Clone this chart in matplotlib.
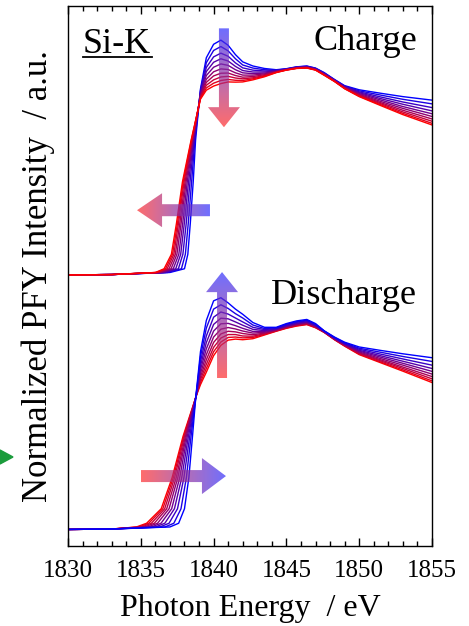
import numpy as np
import matplotlib
matplotlib.use("Agg")
import matplotlib.pyplot as plt
from matplotlib.colors import LinearSegmentedColormap
from matplotlib.patches import Polygon
from matplotlib.ticker import MultipleLocator

plt.rcParams['font.family'] = ['Liberation Serif', 'DejaVu Serif']

# each spectrum = pre-edge points + energies where the edge crosses fixed levels
# + intensities at fixed post-edge energies
pre_E = [1830, 1833]
pre_I = [0.0, 0.002]
edge_levels = [0.012, 0.03, 0.1, 0.25, 0.45, 0.65]
post_E = [1839.1, 1839.5, 1840, 1840.5, 1841, 1841.5, 1842, 1842.7, 1843.5, 1844.3,
          1845, 1845.7, 1846.4, 1847, 1847.6, 1848.3, 1849, 1850, 1851.5, 1853, 1855]

# Charge: first row blue (start) ... last row red (end)
charge_edge_E = [
    [1837.00, 1838.00, 1838.23, 1838.40, 1838.60, 1838.76],
    [1836.85, 1837.79, 1838.06, 1838.26, 1838.49, 1838.71],
    [1836.70, 1837.58, 1837.89, 1838.12, 1838.38, 1838.67],
    [1836.57, 1837.40, 1837.74, 1837.99, 1838.28, 1838.63],
    [1836.45, 1837.23, 1837.61, 1837.88, 1838.19, 1838.59],
    [1836.34, 1837.08, 1837.48, 1837.77, 1838.11, 1838.56],
    [1836.24, 1836.94, 1837.37, 1837.68, 1838.04, 1838.52],
    [1836.15, 1836.81, 1837.27, 1837.59, 1837.97, 1838.50],
    [1836.07, 1836.70, 1837.18, 1837.52, 1837.91, 1838.47],
    [1836.00, 1836.60, 1837.10, 1837.45, 1837.86, 1838.45],
]
charge_post_I = [
    [.900, 1.050, 1.115, 1.135, 1.110, 1.065, 1.030, 1.010, .998, .992, .997, 1.006, 1.010, 1.000, .978, .945, .915, .895, .878, .862, .845],
    [.893, 1.026, 1.085, 1.104, 1.083, 1.045, 1.015, 1.000, .992, .990, .996, 1.005, 1.009, .999, .976, .944, .913, .890, .869, .849, .827],
    [.885, 1.003, 1.054, 1.072, 1.057, 1.025, 1.001, .990, .986, .988, .995, 1.004, 1.007, .997, .974, .942, .911, .885, .860, .836, .809],
    [.879, .983, 1.028, 1.045, 1.034, 1.008, .988, .981, .981, .986, .994, 1.003, 1.006, .996, .972, .941, .909, .881, .852, .825, .793],
    [.873, .964, 1.004, 1.020, 1.013, .992, .977, .973, .976, .984, .993, 1.002, 1.005, .995, .971, .940, .907, .877, .845, .814, .779],
    [.867, .946, .982, .996, .993, .977, .966, .966, .972, .983, .992, 1.001, 1.003, .993, .969, .938, .905, .873, .838, .805, .766],
    [.862, .931, .962, .975, .976, .964, .956, .959, .968, .981, .992, 1.000, 1.002, .992, .968, .937, .904, .870, .832, .796, .754],
    [.858, .917, .943, .957, .960, .952, .948, .953, .964, .980, .991, .999, 1.002, .992, .967, .937, .902, .867, .827, .788, .743],
    [.854, .904, .927, .940, .945, .941, .940, .948, .961, .979, .991, .999, 1.001, .991, .966, .936, .901, .864, .822, .781, .733],
    [.850, .893, .913, .925, .933, .932, .933, .943, .958, .978, .990, .998, 1.000, .990, .965, .935, .900, .862, .818, .775, .725],
]

# Discharge: first row blue (end) ... last row red (start)
discharge_edge_E = [
    [1837.00, 1837.60, 1838.00, 1838.30, 1838.55, 1838.79],
    [1836.66, 1837.27, 1837.76, 1838.13, 1838.45, 1838.80],
    [1836.31, 1836.94, 1837.52, 1837.96, 1838.36, 1838.80],
    [1836.01, 1836.65, 1837.31, 1837.81, 1838.27, 1838.81],
    [1835.74, 1836.39, 1837.12, 1837.67, 1838.19, 1838.81],
    [1835.48, 1836.15, 1836.94, 1837.54, 1838.12, 1838.82],
    [1835.25, 1835.93, 1836.78, 1837.43, 1838.06, 1838.82],
    [1835.05, 1835.73, 1836.64, 1837.32, 1838.00, 1838.82],
    [1834.86, 1835.55, 1836.51, 1837.23, 1837.95, 1838.83],
    [1834.70, 1835.40, 1836.40, 1837.15, 1837.90, 1838.83],
]
discharge_post_I = [
    [.860, 1.010, 1.105, 1.120, 1.095, 1.065, 1.040, 1.000, .977, .977, .995, 1.008, 1.015, .995, .960, .930, .905, .882, .865, .849, .830],
    [.836, .973, 1.065, 1.086, 1.068, 1.043, 1.022, .988, .971, .974, .992, 1.004, 1.011, .992, .959, .928, .902, .876, .856, .836, .812],
    [.812, .935, 1.026, 1.051, 1.041, 1.022, 1.003, .977, .966, .971, .988, 1.001, 1.008, .989, .958, .926, .899, .871, .847, .824, .794],
    [.791, .903, .991, 1.021, 1.018, 1.003, .987, .967, .961, .969, .985, .997, 1.004, .986, .957, .924, .897, .866, .839, .813, .778],
    [.772, .873, .959, .994, .996, .985, .972, .957, .957, .967, .982, .994, 1.001, .984, .956, .923, .895, .862, .832, .803, .764],
    [.754, .845, .930, .968, .976, .969, .959, .949, .953, .965, .980, .992, .999, .982, .955, .921, .893, .858, .825, .794, .751],
    [.738, .820, .904, .945, .958, .955, .947, .941, .949, .963, .978, .989, .996, .980, .954, .920, .891, .854, .819, .785, .739],
    [.724, .798, .880, .925, .942, .942, .935, .934, .946, .961, .975, .987, .994, .978, .953, .919, .889, .851, .814, .778, .728],
    [.711, .778, .859, .906, .928, .930, .926, .928, .943, .959, .974, .985, .992, .976, .953, .918, .887, .848, .809, .771, .718],
    [.700, .760, .840, .890, .915, .920, .917, .922, .940, .958, .972, .983, .990, .975, .952, .917, .886, .845, .805, .765, .710],
]

charge_offset = 1.31
discharge_offset = 0.08


def spectrum(edge_E, post_I):
    x = np.array(pre_E + list(edge_E) + post_E)
    y = np.array(pre_I + edge_levels + list(post_I))
    return x, y


def grad_arrow(ax, pts, horizontal):
    poly = Polygon(pts, closed=True, facecolor='none', edgecolor='none')
    ax.add_patch(poly)
    xs = [p[0] for p in pts]
    ys = [p[1] for p in pts]
    g = np.linspace(0, 1, 256)
    img = g[None, :] if horizontal else g[:, None]
    cmap = LinearSegmentedColormap.from_list('rb', ['#ff2c2c', '#3030ff'])
    im = ax.imshow(img, cmap=cmap, extent=[min(xs), max(xs), min(ys), max(ys)],
                   origin='lower', aspect='auto', alpha=0.7, zorder=3)
    im.set_clip_path(poly)


fig = plt.figure(figsize=(4.69, 6.26), dpi=100)
ax = fig.add_axes([68 / 469, 80 / 626, 364 / 469, 540 / 626])

n = len(charge_post_I)
for i in range(n):
    x, y = spectrum(charge_edge_E[i], charge_post_I[i])
    f = i / (n - 1)
    ax.plot(x, y + charge_offset, color=(f, 0, 1 - f), lw=1.0, zorder=2)
for i in reversed(range(n)):
    x, y = spectrum(discharge_edge_E[i], discharge_post_I[i])
    f = i / (n - 1)
    ax.plot(x, y + discharge_offset, color=(f, 0, 1 - f), lw=1.0, zorder=2)

# arrows (charge: down + left, discharge: up + right)
cx, hs, hh = 1840.71, 0.343, 1.10
grad_arrow(ax, [(cx - hs, 2.502), (cx + hs, 2.502), (cx + hs, 2.121), (cx + hh, 2.121),
                (cx, 2.024), (cx - hh, 2.121), (cx - hs, 2.121)], False)
yc, vs, vh = 1.623, 0.029, 0.082
grad_arrow(ax, [(1839.75, yc - vs), (1839.75, yc + vs), (1836.46, yc + vs), (1836.46, yc + vh),
                (1834.74, yc), (1836.46, yc - vh), (1836.46, yc - vs)], True)
cx = 1840.58
grad_arrow(ax, [(cx - hs, 0.812), (cx + hs, 0.812), (cx + hs, 1.227), (cx + hh, 1.227),
                (cx, 1.324), (cx - hh, 1.227), (cx - hs, 1.227)], False)
yc, vh = 0.338, 0.087
grad_arrow(ax, [(1835.01, yc - vs), (1835.01, yc + vs), (1839.20, yc + vs), (1839.20, yc + vh),
                (1840.85, yc), (1839.20, yc - vh), (1839.20, yc - vs)], True)

ax.set_xlim(1830, 1855)
ax.set_ylim(0, 2.61)
ax.xaxis.set_major_locator(MultipleLocator(5))
ax.xaxis.set_minor_locator(MultipleLocator(1))
ax.tick_params(axis='x', which='both', direction='in', top=True, bottom=True,
               labelsize=18, pad=10)
ax.tick_params(axis='x', which='major', length=6, width=1)
ax.tick_params(axis='x', which='minor', length=3.5, width=1)
ax.set_yticks([])
for s in ax.spines.values():
    s.set_linewidth(1.0)

ax.set_xlabel("Photon Energy  / eV", fontsize=23, labelpad=9)
ax.set_ylabel("Normalized PFY Intensity  / a.u.", fontsize=25, labelpad=9)

ax.text(0.041, 0.913, "Si-K", transform=ax.transAxes, fontsize=26,
        ha='left', va='baseline')
ax.plot([0.041, 0.231], [0.905, 0.905], transform=ax.transAxes, color='black', lw=1.3)
ax.text(0.959, 0.919, "Charge", transform=ax.transAxes, fontsize=26,
        ha='right', va='baseline')
ax.text(0.959, 0.448, "Discharge", transform=ax.transAxes, fontsize=26,
        ha='right', va='baseline')

# green arrow tip cut at the left border
fig.patches.append(Polygon([(0, 1 - 450 / 626), (13 / 469, 1 - 457 / 626), (0, 1 - 464 / 626)],
                           closed=True, transform=fig.transFigure, color='#1b9c3c'))

fig.savefig("out.png", dpi=100)
